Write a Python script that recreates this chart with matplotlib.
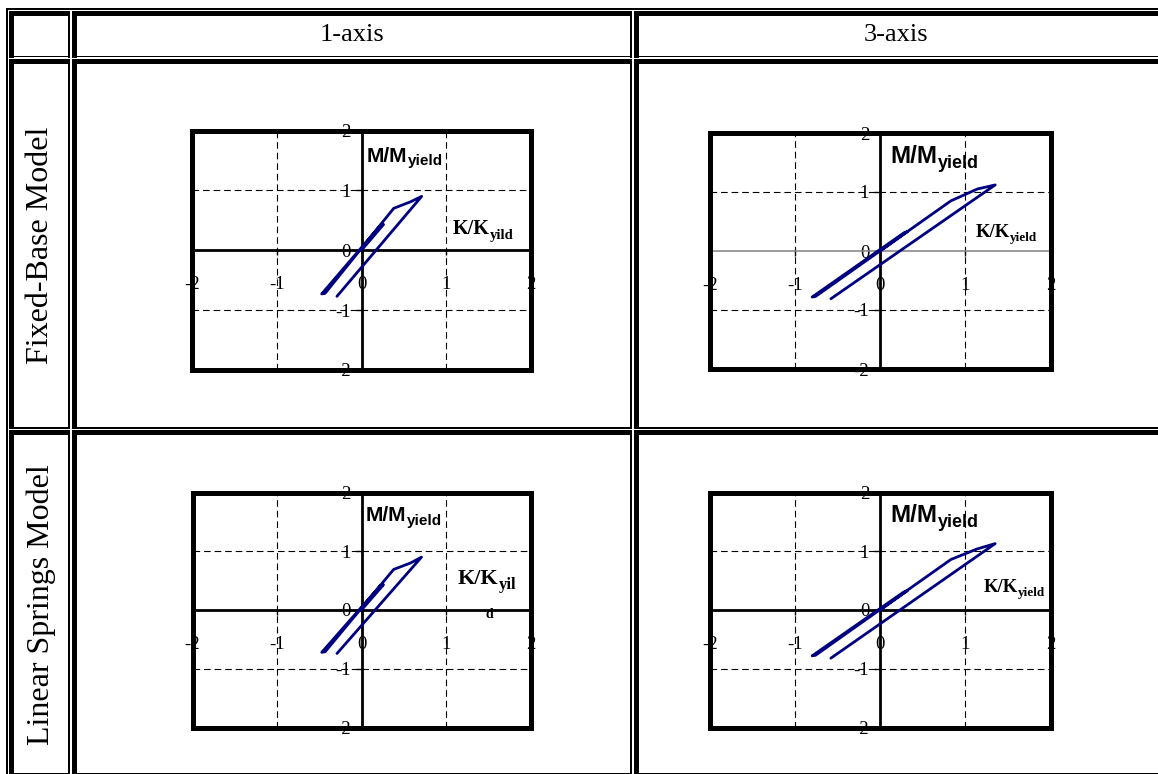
import matplotlib
matplotlib.use("Agg")
import matplotlib.pyplot as plt
from matplotlib.patches import Rectangle

W, H = 1158, 774
SERIF = "Liberation Serif"
SANS = "Liberation Sans"

col_titles = ["1-axis", "3-axis"]
row_titles = ["Fixed-Base Model", "Linear Springs Model"]

tick_values = [-2, -1, 0, 1, 2]
tick_labels = ["-2", "-1", "0", "1", "2"]
grid_values = [-1, 1]

# curvature ratio K/K_yield and moment ratio M/M_yield along each load path
fixed_1axis_k = [0.00, 0.26, 0.22, -0.47, -0.43, 0.38, 0.58, 0.71, -0.29]
fixed_1axis_m = [0.00, 0.43, 0.41, -0.73, -0.72, 0.70, 0.81, 0.90, -0.77]

fixed_3axis_k = [0.00, 0.32, 0.28, -0.80, -0.76, 0.83, 1.14, 1.35, -0.58]
fixed_3axis_m = [0.00, 0.33, 0.31, -0.78, -0.77, 0.85, 1.05, 1.12, -0.81]

springs_1axis_k = [0.00, 0.26, 0.22, -0.47, -0.43, 0.38, 0.58, 0.71, -0.29]
springs_1axis_m = [0.00, 0.43, 0.41, -0.72, -0.71, 0.69, 0.80, 0.90, -0.74]

springs_3axis_k = [0.00, 0.32, 0.28, -0.80, -0.76, 0.83, 1.14, 1.35, -0.58]
springs_3axis_m = [0.00, 0.33, 0.31, -0.78, -0.77, 0.86, 1.04, 1.13, -0.82]

curvature_subs = [["yild", "yield"], ["yil", "yield"]]

fig = plt.figure(figsize=(W / 100, H / 100), dpi=100)
fig.patch.set_facecolor("white")

# ---- table frame drawn in pixel coordinates ----
bg = fig.add_axes([0, 0, 1, 1], zorder=-1)
bg.set_xlim(0, W)
bg.set_ylim(H, 0)
bg.axis("off")


def band(x0, x1, y0, y1):
    bg.add_patch(Rectangle((x0, y0), x1 - x0, y1 - y0, facecolor="black",
                           edgecolor="none", lw=0))


band(6, 7.8, 8, H + 2)
band(6, W + 2, 8, 9.8)
col_edges = [(9, 69.5), (72, 631.5), (633.5, W + 6)]
row_edges = [(11, 57.5), (59, 428.5), (430, 774.3)]
for x0, x1 in col_edges:
    for y0, y1 in row_edges:
        band(x0, x1, y0, y0 + 5)
        band(x0, x0 + 5, y0, y1)
        band(x0, x1, y1 - 1.6, y1)
        band(x1 - 1.6, x1, y0, y1)

for j, title in enumerate(col_titles):
    x0, x1 = col_edges[j + 1]
    xc = (x0 + min(x1, W)) / 2
    bg.text(xc, 35, title, ha="center", va="center", fontsize=19, family=SERIF)

for i, title in enumerate(row_titles):
    y0, y1 = row_edges[i + 1]
    bg.text(41, (y0 + y1) / 2 + 2, title, rotation=90, ha="center",
            va="center", fontsize=23, family=SERIF)

# ---- chart panels ----
panel_boxes = [
    [(192, 130.5, 531, 370), (710, 133, 1050.5, 369)],
    [(192.5, 492.5, 530.5, 727.5), (710, 492.5, 1050.5, 727.5)],
]
panel_data = [
    [(fixed_1axis_k, fixed_1axis_m), (fixed_3axis_k, fixed_3axis_m)],
    [(springs_1axis_k, springs_1axis_m), (springs_3axis_k, springs_3axis_m)],
]
# (x, y, size, sub size) of the moment label and curvature label
moment_label = [[(0.065, 1.48, 15, 11), (0.12, 1.49, 17.5, 13)],
                [(0.05, 1.51, 15, 11), (0.12, 1.49, 17.5, 13)]]
curv_label = [[(1.08, 0.27, 14.5, 10.5), (1.12, 0.24, 13.5, 9.5)],
              [(1.14, 0.44, 16, 12), (1.21, 0.30, 13.5, 9.5)]]


def label_with_sub(ax, x, y, main, sub, size, subsize, family):
    t = ax.text(x, y, main, fontsize=size, fontweight="bold", family=family,
                ha="left", va="baseline", zorder=5)
    ax.annotate(sub, xy=(1, 0), xycoords=t, xytext=(0.3, 0.2),
                textcoords="offset points", fontsize=subsize,
                fontweight="bold", family=family, ha="left", va="baseline",
                zorder=5, annotation_clip=False)


for i in range(2):
    for j in range(2):
        x0, y0, x1, y1 = panel_boxes[i][j]
        ax = fig.add_axes([x0 / W, 1 - y1 / H, (x1 - x0) / W, (y1 - y0) / H])
        ax.set_xlim(-2, 2)
        ax.set_ylim(-2, 2)
        ax.patch.set_alpha(0)

        for side in ("top", "right"):
            ax.spines[side].set_visible(False)
        ax.spines["left"].set_position(("data", 0))
        ax.spines["bottom"].set_position(("data", 0))
        ax.spines["left"].set_linewidth(2.0)
        ax.spines["left"].set_color("black")
        if (i, j) == (0, 1):
            ax.spines["bottom"].set_linewidth(1.1)
            ax.spines["bottom"].set_color("#808080")
        else:
            ax.spines["bottom"].set_linewidth(2.0)
            ax.spines["bottom"].set_color("black")

        ax.set_xticks(tick_values)
        ax.set_xticklabels(tick_labels, family=SERIF, fontsize=13.5)
        ax.set_yticks(tick_values)
        ax.set_yticklabels(tick_labels, family=SERIF, fontsize=13.5)
        ax.tick_params(axis="x", direction="out", length=3.6, width=1.0,
                       pad=15)
        ax.tick_params(axis="y", direction="out", length=4.5, width=1.0,
                       pad=3.5)

        for g in grid_values:
            ax.axhline(g, color="black", lw=0.8, ls=(0, (6, 3.5)), zorder=1)
            ax.axvline(g, color="black", lw=0.8, ls=(0, (6, 3.5)), zorder=1)

        k, m = panel_data[i][j]
        ax.plot(k, m, color="#000080", lw=2.0, solid_joinstyle="round",
                solid_capstyle="round", zorder=4)

        mx, my, ms, mss = moment_label[i][j]
        label_with_sub(ax, mx, my, "M/M", "yield", ms, mss, SANS)
        cx, cy, cs, css = curv_label[i][j]
        label_with_sub(ax, cx, cy, "K/K", curvature_subs[i][j], cs, css, SERIF)
        if (i, j) == (1, 0):
            ax.text(1.51, -0.08, "d", fontsize=10, fontweight="bold",
                    family=SERIF, ha="center", va="center", zorder=5)

        ax.add_patch(Rectangle((0, 0), 1, 1, transform=ax.transAxes,
                               fill=False, ec="black", lw=3.6, zorder=6,
                               clip_on=False))

fig.savefig("out.png", dpi=100, facecolor="white")
